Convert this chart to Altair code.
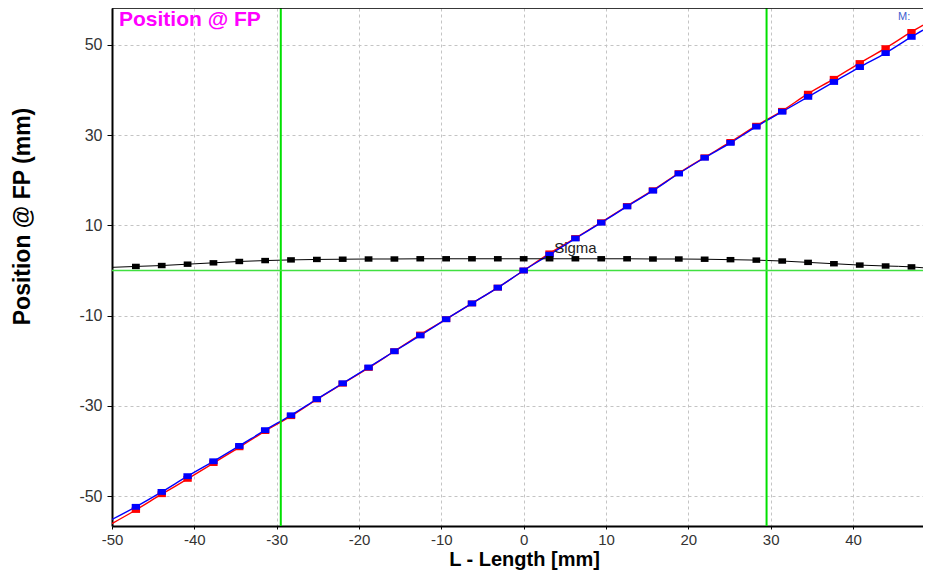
import altair as alt
import pandas as pd

# ---------------- data ----------------
x_pts = [-47.1, -43.96, -40.82, -37.68, -34.54, -31.4, -28.26, -25.12, -21.98, -18.84,
         -15.7, -12.56, -9.42, -6.28, -3.14, 0.0, 3.14, 6.28, 9.42, 12.56,
         15.7, 18.84, 21.98, 25.12, 28.26, 31.4, 34.54, 37.68, 40.82, 43.96, 47.1]
blue_pts = [-52.4, -49.1, -45.6, -42.3, -38.9, -35.4, -32.1, -28.5, -25.0, -21.5,
            -17.9, -14.4, -10.8, -7.3, -3.8, 0.0, 3.5, 7.1, 10.6, 14.2,
            17.7, 21.5, 25.0, 28.3, 31.9, 35.2, 38.5, 41.8, 45.1, 48.2, 51.8]
red_pts = [-53.1, -49.6, -46.2, -42.7, -39.2, -35.6, -32.3, -28.6, -25.1, -21.6,
           -17.9, -14.2, -10.8, -7.3, -3.8, 0.0, 3.8, 7.2, 10.7, 14.3,
           17.8, 21.6, 25.1, 28.5, 32.1, 35.4, 39.2, 42.5, 46.0, 49.3, 52.9]
sigma_pts = [0.9, 1.1, 1.4, 1.7, 2.0, 2.2, 2.35, 2.45, 2.5, 2.55,
             2.55, 2.6, 2.6, 2.6, 2.6, 2.6, 2.6, 2.6, 2.6, 2.6,
             2.55, 2.55, 2.5, 2.4, 2.3, 2.1, 1.8, 1.5, 1.2, 1.0, 0.8]
# line end points (curves run to the plot edges)
x_ends = [-50.0, 48.5]
blue_ends = [-55.2, 53.3]
red_ends = [-56.1, 54.4]
sigma_ends = [0.7, 0.6]

green_x = [-29.5, 29.5]
green_y = [0.0]

sigma_label = {"x": [3.7], "y": [3.3], "text": ["Sigma"]}

x_ticks = [-50, -40, -30, -20, -10, 0, 10, 20, 30, 40]
y_ticks = [-50, -30, -10, 10, 30, 50]
x_domain = [-50, 48.5]
y_domain = [-56.65, 58.2]

W, H = 811, 518
FONT = "Liberation Sans"

pts = pd.DataFrame({"x": x_pts, "blue": blue_pts, "red": red_pts, "sigma": sigma_pts})
lines = pd.DataFrame({
    "x": [x_ends[0]] + x_pts + [x_ends[1]],
    "blue": [blue_ends[0]] + blue_pts + [blue_ends[1]],
    "red": [red_ends[0]] + red_pts + [red_ends[1]],
    "sigma": [sigma_ends[0]] + sigma_pts + [sigma_ends[1]],
})

xs = alt.Scale(domain=x_domain, nice=False, zero=False)
ys = alt.Scale(domain=y_domain, nice=False, zero=False)

x_axis = alt.Axis(
    values=x_ticks, labelExpr="datum.value + ''", grid=True, gridDash=[3, 3], gridColor="#c4c4c4",
    domainColor="#000", domainWidth=2, tickColor="#000", tickSize=3,
    labelFont=FONT, labelFontSize=15, labelColor="#333", labelPadding=3,
    labelFlush=False, labelOverlap=False,
    title="L - Length [mm]", titleFont=FONT, titleFontSize=20, titleFontWeight="bold",
    titleColor="#000", titleX=412, titleY=33, titleBaseline="middle",
)
y_axis = alt.Axis(
    values=y_ticks, labelExpr="datum.value + ''", grid=True, gridDash=[3, 3], gridColor="#c4c4c4",
    domainColor="#000", domainWidth=2, tickColor="#000", tickSize=5,
    labelFont=FONT, labelFontSize=16, labelColor="#333", labelPadding=5,
    labelFlush=False, labelOverlap=False,
    title="Position @ FP (mm)", titleFont=FONT, titleFontSize=23, titleFontWeight="bold",
    titleColor="#000", titleX=-90, titleY=208, titleBaseline="middle", titleAngle=270,
)


def X(field="x"):
    return alt.X(f"{field}:Q", scale=xs, axis=x_axis)


def Y(field):
    return alt.Y(f"{field}:Q", scale=ys, axis=y_axis)


SQ = "M-1,-0.7H1V0.7H-1Z"

base_l = alt.Chart(lines)
base_p = alt.Chart(pts)

red_line = base_l.mark_line(color="#ff0000", strokeWidth=1.4, interpolate="monotone", clip=True).encode(x=X(), y=Y("red"))
blue_line = base_l.mark_line(color="#0000ff", strokeWidth=1.4, interpolate="monotone", clip=True).encode(x=X(), y=Y("blue"))
sig_line = base_l.mark_line(color="#000000", strokeWidth=1, interpolate="monotone", clip=True).encode(x=X(), y=Y("sigma"))

red_pt = base_p.mark_point(shape=SQ, size=70, filled=True, opacity=1, color="#ff0000").encode(x=X(), y=Y("red"))
blue_pt = base_p.mark_point(shape=SQ, size=70, filled=True, opacity=1, color="#0000ff").encode(x=X(), y=Y("blue"))
sig_pt = base_p.mark_point(shape=SQ, size=60, filled=True, opacity=1, color="#000000").encode(x=X(), y=Y("sigma"))

gv = alt.Chart(pd.DataFrame({"x": green_x})).mark_rule(color="#00e000", strokeWidth=2).encode(x=X())
gh = alt.Chart(pd.DataFrame({"y": green_y})).mark_rule(color="#40e040", strokeWidth=1.5).encode(y=Y("y"))

top_border = alt.Chart(pd.DataFrame({"a": [0]})).mark_rule(color="#000", strokeWidth=1.5).encode(
    x=alt.value(0), x2=alt.value(W), y=alt.value(0))

sig_text = alt.Chart(pd.DataFrame(sigma_label)).mark_text(
    align="left", baseline="bottom", font=FONT, fontSize=15, color="#222"
).encode(x=X(), y=Y("y"), text="text:N")

title_text = alt.Chart(pd.DataFrame({"t": ["Position @ FP"]})).mark_text(
    align="left", baseline="middle", font=FONT, fontSize=21, fontWeight="bold", color="#ff00ff"
).encode(x=alt.value(7), y=alt.value(12), text="t:N")

m_text = alt.Chart(pd.DataFrame({"t": ["M:"]})).mark_text(
    align="left", baseline="middle", font=FONT, fontSize=11, color="#4060d0"
).encode(x=alt.value(786), y=alt.value(9), text="t:N")

chart = alt.layer(
    red_line, blue_line, sig_line, gv, gh, red_pt, blue_pt, sig_pt,
    sig_text, top_border, title_text, m_text
).properties(
    width=W, height=H,
    autosize=alt.AutoSizeParams(type="none"),
    padding={"left": 104, "top": 0, "right": 0, "bottom": 44},
).configure_view(stroke=None).configure(background="white")

chart.save("out.html", embed_options={"renderer": "svg", "actions": False})
